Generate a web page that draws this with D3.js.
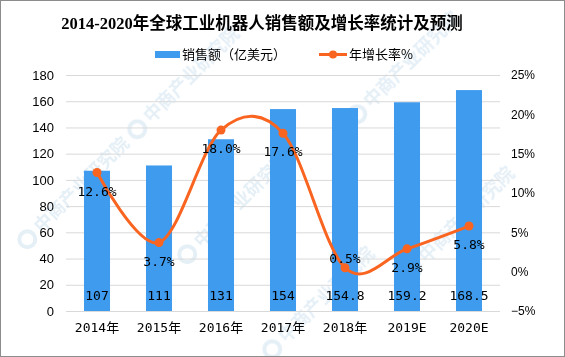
<!DOCTYPE html>
<html><head><meta charset="utf-8">
<script src="https://cdn.jsdelivr.net/npm/d3@7"></script>
<style>
html,body{margin:0;padding:0;background:#fff;}
svg{display:block;}
</style></head>
<body><svg id="c" width="565" height="357"></svg>
<script>
const categories = ["2014年","2015年","2016年","2017年","2018年","2019E","2020E"];
const sales = [107,111,131,154,154.8,159.2,168.5];
const salesLabels = ["107","111","131","154","154.8","159.2","168.5"];
const growth = [12.6,3.7,18.0,17.6,0.5,2.9,5.8];
const growthLabels = ["12.6%","3.7%","18.0%","17.6%","0.5%","2.9%","5.8%"];
const leftTicks = [0,20,40,60,80,100,120,140,160,180];
const rightTicks = [-5,0,5,10,15,20,25];
const titleText = "2014-2020年全球工业机器人销售额及增长率统计及预测";
const legendBar = "销售额（亿美元）";
const legendLine = "年增长率%";
const watermark = "中商产业研究院";

const svg = d3.select("#c");
const W = 565, H = 357;
const barColor = "#3f9bee", lineColor = "#f96520";
const monoFont = "'DejaVu Sans Mono','Noto Sans CJK SC',monospace";
const sansFont = "'Liberation Sans',Arial,sans-serif";

svg.append("rect").attr("x",0).attr("y",0).attr("width",W).attr("height",H).attr("fill","#fff");

// watermark
const wm = svg.append("g").attr("fill","#d3e4f1").attr("opacity",0.6)
  .attr("font-family","'Noto Sans CJK SC',sans-serif").attr("font-size",18).attr("font-weight","bold");
const wmPos = [[150,125],[370,110],[200,250],[425,265],[40,235],[285,345]];
wmPos.forEach(p=>{
  const g = wm.append("g").attr("transform",`translate(${p[0]},${p[1]}) rotate(-45)`);
  g.append("circle").attr("cx",-12).attr("cy",-6).attr("r",8).attr("fill","none").attr("stroke","#d3e4f1").attr("stroke-width",4);
  g.append("text").attr("x",2).attr("y",0).text(watermark);
});

const x = d3.scaleBand().domain(categories).range([66,500]).paddingInner(0.58).paddingOuter(0.29);
const yL = d3.scaleLinear().domain([0,180]).range([311,75]);
const yR = d3.scaleLinear().domain([-5,25]).range([311,75]);

// gridlines
svg.append("g").selectAll("line").data(leftTicks).join("line")
  .attr("x1",66).attr("x2",500).attr("y1",d=>yL(d)+0.5).attr("y2",d=>yL(d)+0.5)
  .attr("stroke","#d9d9d9").attr("stroke-width",1);

// axes
const axL = svg.append("g").attr("transform","translate(58,0)")
  .call(d3.axisLeft(yL).tickValues(leftTicks).tickSize(0).tickPadding(4));
axL.select(".domain").remove();
axL.selectAll("text").attr("font-family",sansFont).attr("font-size",13).attr("fill","#000");

const axR = svg.append("g").attr("transform","translate(507,0)")
  .call(d3.axisRight(yR).tickValues(rightTicks).tickSize(0).tickPadding(4).tickFormat(d=>(d<0?"−":"")+Math.abs(d)+"%"));
axR.select(".domain").remove();
axR.selectAll("text").attr("font-family",sansFont).attr("font-size",12).attr("fill","#000");

// bars
svg.append("g").selectAll("rect").data(sales).join("rect")
  .attr("x",(d,i)=>x(categories[i])).attr("width",x.bandwidth())
  .attr("y",d=>yL(d)).attr("height",d=>yL(0)-yL(d)).attr("fill",barColor);

const axB = svg.append("g").attr("transform","translate(0,311)")
  .call(d3.axisBottom(x).tickSize(0).tickPadding(12));
axB.select(".domain").remove();
axB.selectAll("text").attr("font-family",monoFont).attr("font-size",13).attr("fill","#000");

// bar labels
svg.append("g").selectAll("text").data(salesLabels).join("text")
  .attr("x",(d,i)=>x(categories[i])+x.bandwidth()/2).attr("y",300)
  .attr("text-anchor","middle").attr("font-family",monoFont).attr("font-size",13).attr("fill","#000")
  .text(d=>d);

// line
const cx = (d,i)=>x(categories[i])+x.bandwidth()/2;
const line = d3.line().x(cx).y(d=>yR(d)).curve(d3.curveCatmullRom.alpha(0));
svg.append("path").datum(growth).attr("d",line).attr("fill","none")
  .attr("stroke",lineColor).attr("stroke-width",3).attr("stroke-linecap","round");
svg.append("g").selectAll("circle").data(growth).join("circle")
  .attr("cx",cx).attr("cy",d=>yR(d)).attr("r",4.5).attr("fill",lineColor);

// line labels
svg.append("g").selectAll("text").data(growthLabels).join("text")
  .attr("x",(d,i)=>cx(growth[i],i))
  .attr("y",(d,i)=>yR(growth[i]) + (i===4 ? -5 : 23))
  .attr("text-anchor","middle").attr("font-family",monoFont).attr("font-size",13).attr("fill","#000")
  .text(d=>d);

// title
svg.append("text").attr("x",262).attr("y",29).attr("text-anchor","middle")
  .attr("font-family","'Liberation Serif','Noto Sans CJK SC',serif").attr("font-weight","bold")
  .attr("font-size",16.5).attr("fill","#000").text(titleText);

// legend
const lg = svg.append("g");
lg.append("rect").attr("x",155).attr("y",51).attr("width",25).attr("height",7).attr("fill",barColor);
lg.append("text").attr("x",182).attr("y",59).attr("font-family","'Noto Sans CJK SC',sans-serif")
  .attr("font-size",13).attr("fill","#000").text(legendBar);
lg.append("line").attr("x1",319).attr("x2",347).attr("y1",54.5).attr("y2",54.5)
  .attr("stroke",lineColor).attr("stroke-width",3);
lg.append("circle").attr("cx",333).attr("cy",54.5).attr("r",4).attr("fill",lineColor);
lg.append("text").attr("x",349).attr("y",59).attr("font-family","'Noto Sans CJK SC',sans-serif")
  .attr("font-size",13).attr("fill","#000").text(legendLine);

// frame
svg.append("rect").attr("x",0.5).attr("y",0.5).attr("width",W-1).attr("height",H-1)
  .attr("fill","none").attr("stroke","#8c8c8c");
</script></body></html>
